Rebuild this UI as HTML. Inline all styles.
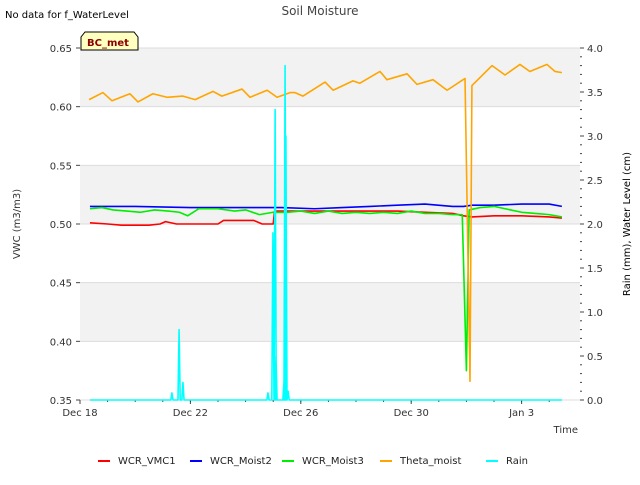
<!DOCTYPE html>
<html><head><meta charset="utf-8"><style>
body{margin:0;background:#fff;font-family:"Liberation Sans","DejaVu Sans",sans-serif}
svg text{font-family:"DejaVu Sans","Liberation Sans",sans-serif}
</style></head><body>
<svg id="c" width="640" height="480" viewBox="0 0 640 480" xmlns="http://www.w3.org/2000/svg">
<text x="5" y="18" font-size="10" fill="#000">No data for f_WaterLevel</text>
<text x="320" y="15" font-size="12" fill="#444" text-anchor="middle">Soil Moisture</text>
<g id="bands"></g>
<g id="axes"></g>
<g id="series"></g>
<g>
<path d="M81,50 L81,37 L85,32 L134,32 L138,37 L138,50 Z" fill="#ffffc0" stroke="#000" stroke-width="1"/>
<text x="87" y="46" font-size="10" font-weight="bold" fill="#8b0000">BC_met</text>
</g>
<text x="20" y="224" font-size="10" fill="#333" text-anchor="middle" transform="rotate(-90 20 224)">VWC (m3/m3)</text>
<text x="630" y="224" font-size="10" fill="#000" text-anchor="middle" transform="rotate(-90 630 224)">Rain (mm), Water Level (cm)</text>
<text x="578" y="433" font-size="10" fill="#333" text-anchor="end">Time</text>
<g id="legend"></g>
</svg>
<script>
const xTickLabels=["Dec 18","Dec 22","Dec 26","Dec 30","Jan 3"];
const xTickDays=[0,4,8,12,16];
const yTicks=[0.35,0.40,0.45,0.50,0.55,0.60,0.65];
const y2Ticks=[0,0.5,1,1.5,2,2.5,3,3.5,4];
const thetaDays=[0.33,0.83,1.16,1.81,2.10,2.64,3.15,3.73,4.17,4.82,5.14,5.87,6.16,6.78,7.14,7.61,7.79,8.08,8.88,9.17,9.89,10.14,10.87,11.12,11.85,12.21,12.79,13.30,13.88,13.95,14.13,14.20,14.93,15.40,15.94,16.30,16.92,17.21,17.46];
const thetaVals=[0.606,0.612,0.605,0.611,0.604,0.611,0.608,0.609,0.606,0.613,0.609,0.615,0.608,0.614,0.608,0.612,0.612,0.609,0.621,0.614,0.622,0.620,0.630,0.623,0.628,0.619,0.623,0.614,0.623,0.624,0.366,0.618,0.635,0.627,0.636,0.630,0.636,0.630,0.629];
const blueDays=[0.36,2,4,6,7.3,8.5,9.5,10.5,11.5,12.5,13.5,13.9,14.2,15,16,17,17.46];
const blueVals=[0.515,0.515,0.514,0.514,0.514,0.513,0.514,0.515,0.516,0.517,0.515,0.515,0.516,0.516,0.517,0.517,0.515];
const redDays=[0.36,1,1.5,2.5,2.9,3.1,3.5,5.0,5.2,6.3,6.6,7.0,7.05,8.5,10,11.5,12.5,13.5,13.9,14.2,15,16,17,17.46];
const redVals=[0.501,0.500,0.499,0.499,0.500,0.502,0.500,0.500,0.503,0.503,0.500,0.500,0.511,0.511,0.511,0.511,0.510,0.509,0.507,0.506,0.507,0.507,0.506,0.505];
const greenDays=[0.36,0.8,1.2,1.7,2.2,2.7,3.2,3.6,3.9,4.1,4.3,5.0,5.6,6.0,6.5,7.0,7.5,8.0,8.5,9.0,9.5,10.0,10.5,11,11.5,12,12.5,13,13.5,13.85,14.0,14.1,14.5,15.0,15.6,16,16.5,17,17.46];
const greenVals=[0.513,0.514,0.512,0.511,0.510,0.512,0.511,0.510,0.507,0.510,0.513,0.513,0.511,0.512,0.508,0.510,0.510,0.511,0.509,0.511,0.509,0.510,0.509,0.510,0.509,0.511,0.509,0.509,0.508,0.508,0.375,0.512,0.514,0.515,0.512,0.510,0.509,0.508,0.506];
const rainDays=[3.33,3.59,3.73,6.81,6.99,7.07,7.10,7.39,7.43,7.46,7.54];
const rainVals=[0.08,0.8,0.2,0.08,1.9,3.3,0.5,0.2,3.8,3.0,0.1];
const legendNames=["WCR_VMC1","WCR_Moist2","WCR_Moist3","Theta_moist","Rain"];
const legendColors=["#ff0000","#0000ff","#00ee00","#ffa500","#00ffff"];

const NS="http://www.w3.org/2000/svg";
const L=80,R=580,T=48,B=400;
const xs=d=>L+d*27.6;
const ys=v=>B-(v-0.35)/0.3*(B-T);
const yr=r=>B-r/4*(B-T);
function mk(tag,attrs,parent){const e=document.createElementNS(NS,tag);for(const k in attrs)e.setAttribute(k,attrs[k]);parent.appendChild(e);return e;}
const bands=document.getElementById('bands'),axes=document.getElementById('axes'),ser=document.getElementById('series'),leg=document.getElementById('legend');
for(let i=0;i<6;i++){
  const lo=yTicks[i],hi=yTicks[i+1];
  const r=mk('rect',{x:L,y:ys(hi),width:R-L,height:ys(lo)-ys(hi),fill:(i%2==1)?'#f2f2f2':'#ffffff'},bands);
  
  
}
yTicks.forEach(v=>{
  const g=mk('line',{x1:L,x2:R,y1:ys(v),y2:ys(v),stroke:'#dcdcdc','stroke-width':1},axes);
  
  
  mk('line',{x1:L-4,x2:L,y1:ys(v),y2:ys(v),stroke:'#444'},axes);
  const t=mk('text',{x:L-8,y:ys(v)+4,'font-size':10,fill:'#333','text-anchor':'end'},axes);
  t.textContent=v.toFixed(2);
  
  
});
y2Ticks.forEach(v=>{
  mk('line',{x1:R,x2:R+4,y1:yr(v),y2:yr(v),stroke:'#444'},axes);
  const t=mk('text',{x:R+7,y:yr(v)+4,'font-size':10,fill:'#333'},axes);
  t.textContent=v.toFixed(1);
  
  
});
for(let v=0.1;v<4;v+=0.1){mk('line',{x1:R,x2:R+2,y1:yr(v),y2:yr(v),stroke:'#444'},axes);}
xTickDays.forEach((d,i)=>{
  mk('line',{x1:xs(d),x2:xs(d),y1:B,y2:B+4,stroke:'#444'},axes);
  const t=mk('text',{x:xs(d),y:B+16,'font-size':10,fill:'#333','text-anchor':'middle'},axes);
  t.textContent=xTickLabels[i];
  
  
});
for(let d=1;d<18;d++){mk('line',{x1:xs(d),x2:xs(d),y1:B,y2:B+2,stroke:'#444'},axes);}
function line(days,vals,sc,color,name){
  const p=mk('polyline',{points:days.map((d,i)=>xs(d)+','+sc(vals[i])).join(' '),fill:'none',stroke:color,'stroke-width':1.6,'stroke-linejoin':'round'},ser);
  
  
}
line(redDays,redVals,ys,'#ff0000','wcr-vmc1-line');
line(blueDays,blueVals,ys,'#0000ff','wcr-moist2-line');
line(greenDays,greenVals,ys,'#00ee00','wcr-moist3-line');
line(thetaDays,thetaVals,ys,'#ffa500','theta-moist-line');
let rd=[0.36],rv=[0];
rainDays.forEach((d,i)=>{rd.push(d-0.04,d,d+0.04);rv.push(0,rainVals[i],0);});
rd.push(17.46);rv.push(0);
line(rd,rv,yr,'#00ffff','rain-line');
legendNames.forEach((n,i)=>{
  const x0=[98,190,282,380,486][i];
  const g=mk('g',{},leg);
  
  
  mk('line',{x1:x0,x2:x0+12,y1:461,y2:461,stroke:legendColors[i],'stroke-width':2},g);
  const t=mk('text',{x:x0+20,y:464,'font-size':10,fill:'#222'},g);
  t.textContent=n;
});
</script>
</body></html>
